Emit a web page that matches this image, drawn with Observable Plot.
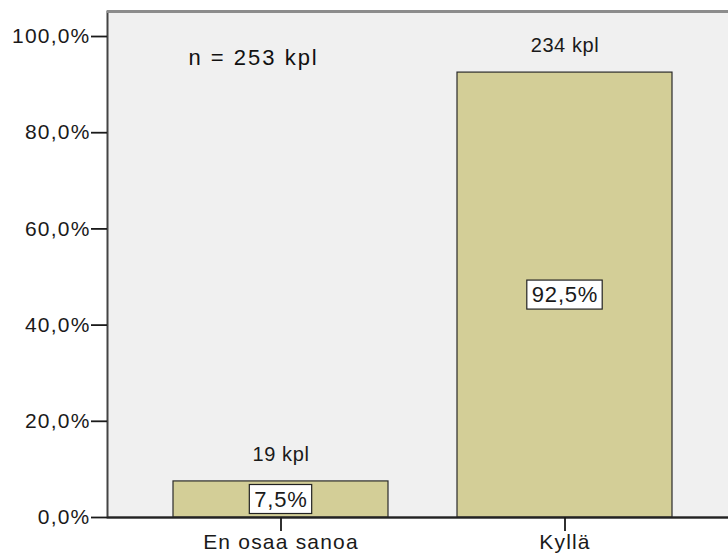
<!DOCTYPE html>
<html>
<head>
<meta charset="utf-8">
<script src="https://cdn.jsdelivr.net/npm/d3@7"></script>
<script src="https://cdn.jsdelivr.net/npm/@observablehq/plot@0.6"></script>
<style>
  html, body { margin: 0; padding: 0; background: white; overflow: hidden; }
  #chart svg text { letter-spacing: 1.2px; }
</style>
</head>
<body>
<div id="chart"></div>
<script>
// Survey answers: share of respondents per answer
const categories = ["En osaa sanoa", "Kyllä"];
const counts = [19, 234];
const percents = [7.5, 92.5];
const total = 253;
const yTicks = [0, 20, 40, 60, 80, 100];
const yMax = 105.2;

const data = categories.map((c, i) => ({category: c, count: counts[i], pct: percents[i]}));

const comma = (v, digits) => v.toFixed(digits).replace(".", ",");

const chart = Plot.plot({
  width: 728,
  height: 559,
  marginLeft: 107,
  marginRight: 0,
  marginTop: 11,
  marginBottom: 42,
  style: {fontFamily: "'Liberation Sans', Arial, sans-serif", background: "white", color: "#1a1a1a"},
  x: {domain: categories, range: [107, 738], paddingInner: 0.243, paddingOuter: 0.232, label: null},
  y: {domain: [0, yMax], label: null},
  marks: [
    Plot.frame({fill: "#f0f0f0", stroke: "#444", strokeWidth: 2, insetRight: -4}),
    Plot.barY(data, {x: "category", y: "pct", fill: "#d3ce97", stroke: "#2b2b2b", strokeWidth: 1.2}),
    Plot.ruleY([yMax], {stroke: "#8c8c8c", strokeWidth: 3}),
    Plot.ruleY([0], {stroke: "#222", strokeWidth: 2}),
    Plot.axisY({ticks: yTicks, tickSize: 16, tickPadding: 1, fontSize: 21, strokeWidth: 1.8, tickFormat: d => comma(d, 1) + "%", label: null}),
    Plot.axisX({tickSize: 14, tickPadding: 3, fontSize: 21, strokeWidth: 1.8, label: null}),
    // count above each bar
    Plot.text(data, {x: "category", y: "pct", text: d => `${d.count} kpl`, dy: -27, fontSize: 20, fill: "#1a1a1a"}),
    // percentage in the middle of each bar
    Plot.text(data, {x: "category", y: d => d.pct / 2, text: d => comma(d.pct, 1) + "%", fontSize: 22, fill: "#1a1a1a"}),
    // sample size
    Plot.text([`n = ${total} kpl`], {frameAnchor: "top-left", text: d => d, dx: 81, dy: 38, textAnchor: "start", fontSize: 22, fill: "#111"})
  ]
});

document.getElementById("chart").append(chart);

const textGroups = chart.querySelectorAll('g[aria-label="text"]');
textGroups[0].querySelectorAll("text").forEach(t => t.style.letterSpacing = "0.6px");
textGroups[2].querySelectorAll("text").forEach(t => t.style.letterSpacing = "2px");

// White boxes behind the percentage labels
textGroups[1].querySelectorAll("text").forEach(t => {
  t.style.letterSpacing = "0.8px";
  const b = t.getBBox();
  const r = document.createElementNS("http://www.w3.org/2000/svg", "rect");
  const tr = t.getAttribute("transform");
  if (tr) r.setAttribute("transform", tr);
  r.setAttribute("x", b.x - 5);
  r.setAttribute("y", b.y - 2);
  r.setAttribute("width", b.width + 9);
  r.setAttribute("height", b.height + 4);
  r.setAttribute("fill", "white");
  r.setAttribute("stroke", "#222");
  r.setAttribute("stroke-width", 1.2);
  t.parentNode.insertBefore(r, t);
});
</script>
</body>
</html>
